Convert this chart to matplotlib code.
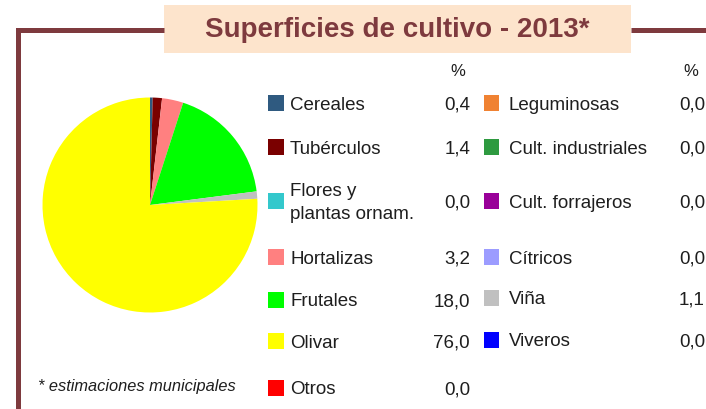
import matplotlib
matplotlib.use("Agg")
import matplotlib.pyplot as plt
from matplotlib.patches import Rectangle

plt.rcParams["font.family"] = ["Liberation Sans", "DejaVu Sans"]

# datos
TITLE = "Superficies de cultivo - 2013*"
NOTE = "* estimaciones municipales"

left_labels = ["Cereales", "Tubérculos", "Flores y\nplantas ornam.", "Hortalizas",
               "Frutales", "Olivar", "Otros"]
left_values = [0.4, 1.4, 0.0, 3.2, 18.0, 76.0, 0.0]
left_colors = ["#2F5A80", "#7A0000", "#33C8CC", "#FF8080", "#00FF00", "#FFFF00", "#FF0000"]

right_labels = ["Leguminosas", "Cult. industriales", "Cult. forrajeros", "Cítricos",
                "Viña", "Viveros"]
right_values = [0.0, 0.0, 0.0, 0.0, 1.1, 0.0]
right_colors = ["#F08232", "#2E9A40", "#990099", "#9C9CFF", "#C0C0C0", "#0000FF"]

# orden de los sectores en la tarta (sentido horario desde arriba)
pie_order = ["Cereales", "Tubérculos", "Hortalizas", "Frutales", "Viña", "Olivar"]

FRAME = "#7E3A3E"
BOX = "#FDE4CC"
TXT = "#1E1E1E"

W, H = 706, 409
fig = plt.figure(figsize=(W / 100, H / 100), dpi=100)
fig.patch.set_facecolor("white")

ax = fig.add_axes([0, 0, 1, 1])
ax.set_xlim(0, W)
ax.set_ylim(H, 0)
ax.axis("off")

# marco y caja del título
ax.plot([18, 18, 164], [H + 5, 30, 30], color=FRAME, lw=3.6, solid_capstyle="butt",
        solid_joinstyle="miter")
ax.plot([631, W + 5], [30, 30], color=FRAME, lw=3.6, solid_capstyle="butt")
ax.add_patch(Rectangle((164, 5), 467, 48, facecolor=BOX, edgecolor="none"))
ax.text(397, 30, TITLE, fontsize=20, fontweight="bold", color=FRAME,
        ha="center", va="center")

# leyenda
left_rows = [103, 147, 201, 257, 300, 341, 388]
right_rows = [103, 147, 201, 257, 298, 340]
fs = 13.5
dy = 2  # ajuste vertical del texto

def fmt(v):
    return f"{v:.1f}".replace(".", ",")

ax.text(458, 72, "%", fontsize=12, color=TXT, ha="center", va="center")
ax.text(691, 72, "%", fontsize=12, color=TXT, ha="center", va="center")

for lab, val, col, y in zip(left_labels, left_values, left_colors, left_rows):
    ax.add_patch(Rectangle((268, y - 8), 16, 16, facecolor=col, edgecolor="none"))
    ax.text(290, y + dy, lab, fontsize=fs, color=TXT, ha="left", va="center",
            linespacing=1.45)
    ax.text(470, y + dy, fmt(val), fontsize=fs, color=TXT, ha="right", va="center")

for lab, val, col, y in zip(right_labels, right_values, right_colors, right_rows):
    ax.add_patch(Rectangle((484, y - 8), 15, 16, facecolor=col, edgecolor="none"))
    ax.text(509, y + dy, lab, fontsize=fs, color=TXT, ha="left", va="center")
    ax.text(705, y + dy, fmt(val), fontsize=fs, color=TXT, ha="right", va="center")

ax.text(38, 386, NOTE, fontsize=11.8, style="italic", color=TXT, ha="left", va="center")

# tarta
all_vals = dict(zip(left_labels + right_labels, left_values + right_values))
all_cols = dict(zip(left_labels + right_labels, left_colors + right_colors))
pie_vals = [all_vals[k] for k in pie_order]
pie_cols = [all_cols[k] for k in pie_order]

cx, cy, r = 150, 205, 107.5
pax = fig.add_axes([(cx - r) / W, (H - cy - r) / H, 2 * r / W, 2 * r / H])
pax.pie(pie_vals, colors=pie_cols, startangle=90, counterclock=False,
        wedgeprops={"linewidth": 0})
pax.set_xlim(-1, 1)
pax.set_ylim(-1, 1)
pax.set_aspect("equal")
pax.axis("off")

fig.savefig("out.png", dpi=100)
